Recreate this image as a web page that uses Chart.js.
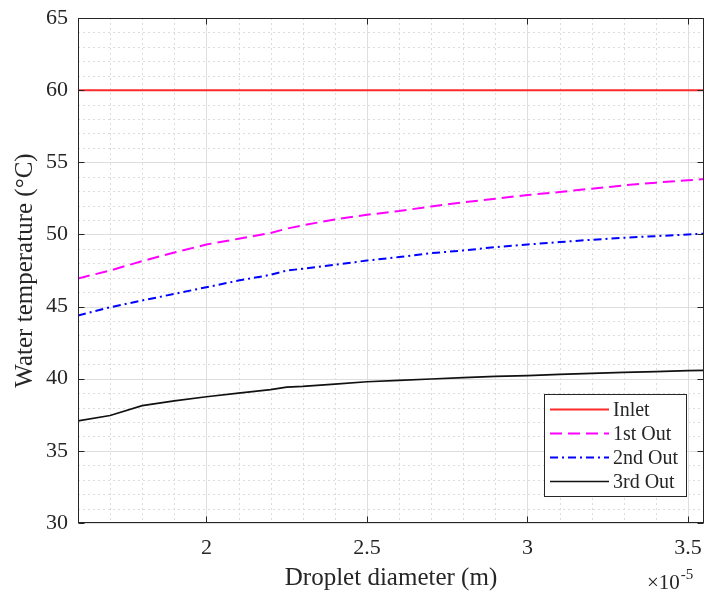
<!DOCTYPE html>
<html>
<head>
<meta charset="utf-8">
<script src="https://cdn.jsdelivr.net/npm/chart.js@4.4.1/dist/chart.umd.min.js"></script>
<style>
html,body{margin:0;padding:0;background:#fff;}
#wrap{width:708px;height:599px;position:relative;}
</style>
</head>
<body>
<div id="wrap"><canvas id="c" width="708" height="599"></canvas></div>
<script>
// Data (droplet diameter in units of 1e-5 m)
const diameters = [1.6,1.7,1.8,1.9,2.0,2.1,2.2,2.25,2.3,2.4,2.5,2.6,2.7,2.8,2.9,3.0,3.1,3.2,3.3,3.4,3.5,3.55];
const inletTemp = [60,60,60,60,60,60,60,60,60,60,60,60,60,60,60,60,60,60,60,60,60,60];
const out1Temp = [46.95,47.5,48.15,48.75,49.3,49.7,50.1,50.4,50.63,51.04,51.36,51.62,51.94,52.22,52.48,52.73,52.94,53.17,53.4,53.59,53.75,53.84];
const out2Temp = [44.38,44.95,45.42,45.88,46.34,46.8,47.2,47.5,47.62,47.9,48.19,48.43,48.7,48.89,49.12,49.3,49.47,49.63,49.77,49.88,50.0,50.05];
const out3Temp = [37.08,37.45,38.13,38.47,38.75,39.0,39.24,39.42,39.47,39.63,39.79,39.88,39.98,40.07,40.16,40.21,40.3,40.37,40.44,40.49,40.56,40.58];
const seriesNames = ["Inlet","1st Out","2nd Out","3rd Out"];
const xTickValues = [2,2.5,3,3.5];
const yTickValues = [30,35,40,45,50,55,60,65];
const xMinorStep = 0.1;
const yMinorStep = 1;

const FONT = "'Liberation Serif','Times New Roman',serif";
const TXT = '#262626';

function pts(ys){ return diameters.map((x,i)=>({x:x,y:ys[i]})); }

const matlabPlugin = {
  id:'matlab',
  beforeDatasetsDraw(chart){
    const {ctx, chartArea:a, scales:{x,y}} = chart;
    ctx.save();
    ctx.strokeStyle = '#dcdcdc';
    ctx.lineWidth = 1;
    ctx.setLineDash([2,3]);
    for(let v=x.min; v<=x.max+1e-9; v+=xMinorStep){
      const vr = Math.round(v*100)/100;
      if (xTickValues.some(t=>Math.abs(t-vr)<1e-6)) continue;
      const px = Math.round(x.getPixelForValue(vr))+0.5;
      ctx.beginPath(); ctx.moveTo(px,a.top); ctx.lineTo(px,a.bottom); ctx.stroke();
    }
    for(let v=y.min; v<=y.max+1e-9; v+=yMinorStep){
      if (yTickValues.includes(v)) continue;
      const py = Math.round(y.getPixelForValue(v))+0.5;
      ctx.beginPath(); ctx.moveTo(a.left,py); ctx.lineTo(a.right,py); ctx.stroke();
    }
    ctx.setLineDash([]);
    ctx.strokeStyle = '#dedede';
    xTickValues.forEach(v=>{
      const px = Math.round(x.getPixelForValue(v))+0.5;
      ctx.beginPath(); ctx.moveTo(px,a.top); ctx.lineTo(px,a.bottom); ctx.stroke();
    });
    yTickValues.forEach(v=>{
      const py = Math.round(y.getPixelForValue(v))+0.5;
      ctx.beginPath(); ctx.moveTo(a.left,py); ctx.lineTo(a.right,py); ctx.stroke();
    });
    ctx.restore();
  },
  afterDatasetsDraw(chart){
    const {ctx, chartArea:a, scales:{x,y}} = chart;
    ctx.save();
    ctx.strokeStyle = TXT;
    ctx.lineWidth = 1;
    const L = Math.round(a.left)+0.5, R = Math.round(a.right)-0.5, T = Math.round(a.top)+0.5, B = Math.round(a.bottom)-0.5;
    ctx.strokeRect(L,T,R-L,B-T);
    const tl = 6;
    xTickValues.forEach(v=>{
      const px = Math.round(x.getPixelForValue(v))+0.5;
      ctx.beginPath(); ctx.moveTo(px,B); ctx.lineTo(px,B-tl); ctx.moveTo(px,T); ctx.lineTo(px,T+tl); ctx.stroke();
    });
    yTickValues.forEach(v=>{
      const py = Math.round(y.getPixelForValue(v))+0.5;
      ctx.beginPath(); ctx.moveTo(L,py); ctx.lineTo(L+tl,py); ctx.moveTo(R,py); ctx.lineTo(R-tl,py); ctx.stroke();
    });
    ctx.restore();
  },
  afterDraw(chart){
    const {ctx} = chart;
    ctx.save();
    ctx.fillStyle = TXT;
    ctx.textBaseline = 'alphabetic';
    ctx.textAlign = 'left';
    ctx.font = '21px ' + FONT;
    const ex = 647, ey = 589;
    ctx.fillText('\u00D710', ex, ey);
    const w = ctx.measureText('\u00D710').width;
    ctx.font = '15px ' + FONT;
    ctx.fillText('-5', ex + w + 1, ey - 10);
    // legend
    const bx = 544.5, by = 394.5, bw = 142, bh = 102;
    ctx.fillStyle = '#fff';
    ctx.fillRect(bx,by,bw,bh);
    ctx.strokeStyle = TXT; ctx.lineWidth = 1; ctx.setLineDash([]);
    ctx.strokeRect(bx,by,bw,bh);
    const rows = [409.5,433.5,457.5,481.5];
    chart.data.datasets.forEach((ds,i)=>{
      ctx.strokeStyle = ds.borderColor;
      ctx.lineWidth = ds.borderWidth;
      ctx.setLineDash(ds.borderDash || []);
      ctx.beginPath(); ctx.moveTo(550,rows[i]); ctx.lineTo(609,rows[i]); ctx.stroke();
      ctx.setLineDash([]);
      ctx.fillStyle = TXT;
      ctx.font = '20px ' + FONT;
      ctx.textBaseline = 'middle';
      ctx.fillText(ds.label, 613, rows[i]+1);
    });
    ctx.restore();
  }
};

new Chart(document.getElementById('c'), {
  type:'line',
  data:{
    datasets:[
      {label:seriesNames[0], data:pts(inletTemp), borderColor:'#ff2a2a', borderWidth:2, borderDash:[]},
      {label:seriesNames[1], data:pts(out1Temp), borderColor:'#ff00ff', borderWidth:2, borderDash:[12,6]},
      {label:seriesNames[2], data:pts(out2Temp), borderColor:'#0000ff', borderWidth:2, borderDash:[8,4,2,4]},
      {label:seriesNames[3], data:pts(out3Temp), borderColor:'#111111', borderWidth:1.7, borderDash:[]}
    ]
  },
  options:{
    responsive:false,
    animation:false,
    devicePixelRatio:1,
    elements:{point:{radius:0}, line:{tension:0, fill:false}},
    layout:{padding:{top:18,right:4,left:0,bottom:0}},
    plugins:{legend:{display:false}, tooltip:{enabled:false}},
    scales:{
      x:{
        type:'linear', min:1.6, max:3.55,
        afterBuildTicks(s){ s.ticks = xTickValues.map(v=>({value:v})); },
        afterFit(s){ s.height = 76; s.paddingLeft = 0; s.paddingRight = 0; },
        grid:{display:false, drawTicks:false},
        border:{display:false},
        ticks:{color:TXT, font:{family:FONT, size:22}, padding:12, maxRotation:0, autoSkip:false,
          callback:(v)=>String(v)},
        title:{display:true, text:'Droplet diameter (m)', color:TXT, font:{family:FONT, size:25}, padding:{top:0,bottom:6}}
      },
      y:{
        type:'linear', min:30, max:65,
        afterBuildTicks(s){ s.ticks = yTickValues.map(v=>({value:v})); },
        afterFit(s){ s.width = 78; s.paddingTop = 0; s.paddingBottom = 0; },
        grid:{display:false, drawTicks:false},
        border:{display:false},
        ticks:{color:TXT, font:{family:FONT, size:22}, padding:10, autoSkip:false},
        title:{display:true, text:'Water temperature (\u00B0C)', color:TXT, font:{family:FONT, size:25}, padding:{top:10,bottom:0}}
      }
    }
  },
  plugins:[matlabPlugin]
});
</script>
</body>
</html>
